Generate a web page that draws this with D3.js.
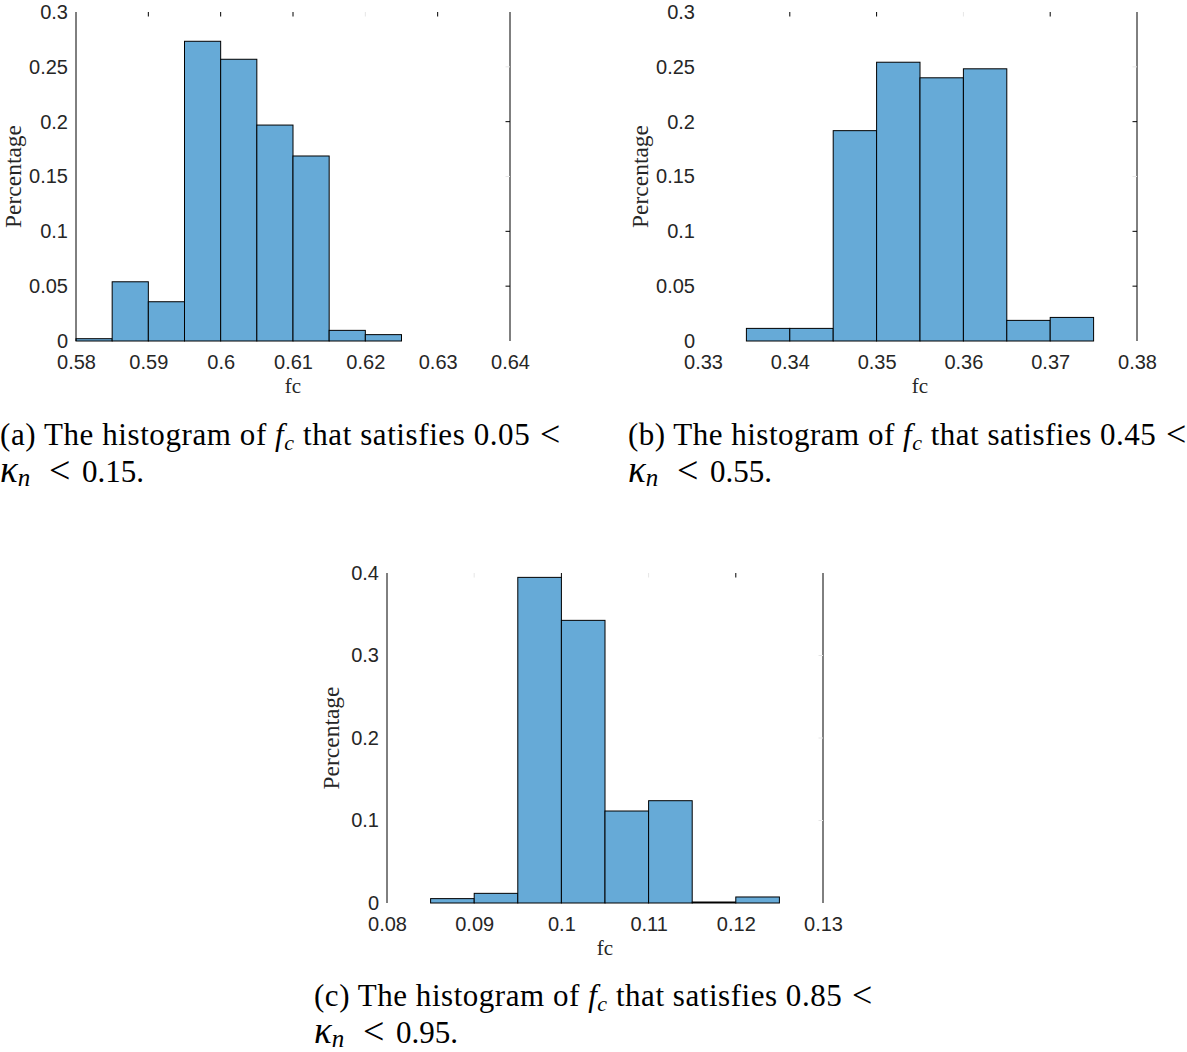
<!DOCTYPE html>
<html>
<head>
<meta charset="utf-8">
<script src="https://cdn.jsdelivr.net/npm/d3@7"></script>
<style>
  html, body { margin: 0; padding: 0; background: #fff; }
  svg { display: block; }
</style>
</head>
<body>
<svg id="chart" width="1187" height="1052"></svg>
<script>
// ---------------- data ----------------
const binEdgesA = [0.580, 0.585, 0.590, 0.595, 0.600, 0.605, 0.610, 0.615, 0.620, 0.625];
const valuesA   = [0.0021, 0.0540, 0.0358, 0.2733, 0.2569, 0.1969, 0.1687, 0.0097, 0.0058];
const xTicksA   = [0.58, 0.59, 0.60, 0.61, 0.62, 0.63, 0.64];
const yTicksA   = [0, 0.05, 0.10, 0.15, 0.20, 0.25, 0.30];

const binEdgesB = [0.335, 0.340, 0.345, 0.350, 0.355, 0.360, 0.365, 0.370, 0.375];
const valuesB   = [0.0115, 0.0115, 0.1918, 0.2542, 0.2400, 0.2482, 0.0188, 0.0215];
const xTicksB   = [0.33, 0.34, 0.35, 0.36, 0.37, 0.38];
const yTicksB   = [0, 0.05, 0.10, 0.15, 0.20, 0.25, 0.30];

const binEdgesC = [0.085, 0.090, 0.095, 0.100, 0.105, 0.110, 0.115, 0.120, 0.125];
const valuesC   = [0.0053, 0.0117, 0.3947, 0.3426, 0.1115, 0.1240, 0.0012, 0.0073];
const xTicksC   = [0.08, 0.09, 0.10, 0.11, 0.12, 0.13];
const yTicksC   = [0, 0.1, 0.2, 0.3, 0.4];

const xLabel = "fc";
const yLabel = "Percentage";
const captionA = ["(a) The histogram of ", "f", "c", " that satisfies 0.05 ", "<", "κ", "n", "<", "0.15."];
const captionB = ["(b) The histogram of ", "f", "c", " that satisfies 0.45 ", "<", "κ", "n", "<", "0.55."];
const captionC = ["(c) The histogram of ", "f", "c", " that satisfies 0.85 ", "<", "κ", "n", "<", "0.95."];

// ---------------- layout ----------------
const svg = d3.select("#chart");
const BAR_FILL = "#66aad7";
const TICK_FONT = "'Liberation Sans', Arial, Helvetica, sans-serif";
const SERIF = "'Liberation Serif', 'Times New Roman', Times, serif";

const panels = [
  { edges: binEdgesA, values: valuesA, xt: xTicksA, yt: yTicksA,
    left: 76, right: 510, top: 12, bottom: 341, ylabX: 21,
    faintTop: [0.62], faintRight: [0.25, 0.15], leftLine: true,
    caption: captionA, capX: 0, capW: 538, capY: 445 },
  { edges: binEdgesB, values: valuesB, xt: xTicksB, yt: yTicksB,
    left: 703, right: 1137, top: 12, bottom: 341, ylabX: 648,
    faintTop: [0.36], faintRight: [0.25, 0.15], leftLine: false,
    caption: captionB, capX: 628, capW: 536, capY: 445 },
  { edges: binEdgesC, values: valuesC, xt: xTicksC, yt: yTicksC,
    left: 387, right: 823, top: 573, bottom: 903, ylabX: 339,
    faintTop: [0.09, 0.11], faintRight: [0.3, 0.2, 0.1], leftLine: true,
    caption: captionC, capX: 314, capW: 536, capY: 1006 }
];

const fmt = d => String(+(+d).toFixed(3));

panels.forEach(p => {
  const x = d3.scaleLinear().domain([p.xt[0], p.xt[p.xt.length - 1]]).range([p.left, p.right]);
  const y = d3.scaleLinear().domain([p.yt[0], p.yt[p.yt.length - 1]]).range([p.bottom, p.top]);
  const g = svg.append("g");

  // bars
  const bins = p.values.map((v, i) => ({ x0: p.edges[i], x1: p.edges[i + 1], v }));
  g.append("g").selectAll("rect").data(bins).join("rect")
    .attr("x", d => x(d.x0))
    .attr("y", d => y(d.v))
    .attr("width", d => x(d.x1) - x(d.x0))
    .attr("height", d => y(0) - y(d.v))
    .attr("fill", BAR_FILL)
    .attr("stroke", "#000")
    .attr("stroke-width", 1);

  // box lines
  g.append("line").attr("x1", p.right).attr("x2", p.right).attr("y1", p.top).attr("y2", p.bottom)
    .attr("stroke", "#000").attr("stroke-width", 1);
  if (p.leftLine) {
    g.append("line").attr("x1", p.left).attr("x2", p.left).attr("y1", p.top).attr("y2", p.bottom)
      .attr("stroke", "#000").attr("stroke-width", 1);
  }

  // inward ticks on top and right
  const isFaint = (arr, v) => arr.some(a => Math.abs(a - v) < 1e-9);
  g.append("g").selectAll("line").data(p.xt.slice(1, -1)).join("line")
    .attr("x1", d => x(d)).attr("x2", d => x(d))
    .attr("y1", p.top).attr("y2", p.top + 4.5)
    .attr("stroke", d => isFaint(p.faintTop, d) ? "#e6e6e6" : "#000");
  g.append("g").selectAll("line").data(p.yt.slice(1, -1)).join("line")
    .attr("x1", p.right - 4.5).attr("x2", p.right)
    .attr("y1", d => y(d)).attr("y2", d => y(d))
    .attr("stroke", d => isFaint(p.faintRight, d) ? "#e6e6e6" : "#000");

  // tick labels via d3 axes
  const xa = g.append("g").attr("transform", `translate(0,${p.bottom})`)
    .call(d3.axisBottom(x).tickValues(p.xt).tickFormat(fmt).tickSize(0).tickPadding(14));
  const ya = g.append("g").attr("transform", `translate(${p.left},0)`)
    .call(d3.axisLeft(y).tickValues(p.yt).tickFormat(fmt).tickSize(0).tickPadding(8));
  [xa, ya].forEach(a => {
    a.select(".domain").remove();
    a.selectAll("text").attr("font-family", TICK_FONT).attr("font-size", 20).attr("fill", "#262626");
  });

  // axis titles
  g.append("text")
    .attr("x", (p.left + p.right) / 2).attr("y", p.bottom + 52)
    .attr("text-anchor", "middle")
    .attr("font-family", SERIF).attr("font-size", 21).attr("fill", "#262626")
    .text(xLabel);
  g.append("text")
    .attr("transform", `translate(${p.ylabX},${(p.top + p.bottom) / 2}) rotate(-90)`)
    .attr("text-anchor", "middle")
    .attr("font-family", SERIF).attr("font-size", 23.5).attr("fill", "#262626")
    .text(yLabel);

  // caption line 1
  const c = p.caption;
  const t1 = g.append("text")
    .attr("x", p.capX).attr("y", p.capY)
    .attr("font-family", SERIF).attr("font-size", 31).attr("fill", "#000")
    .attr("xml:space", "preserve")
    .attr("textLength", p.capW).attr("lengthAdjust", "spacing");
  t1.append("tspan").text(c[0]);
  t1.append("tspan").attr("font-style", "italic").text(c[1]);
  t1.append("tspan").attr("font-style", "italic").attr("font-size", 22).attr("dy", 5).text(c[2]);
  t1.append("tspan").attr("dy", -5).text(c[3]);
  g.append("text")
    .attr("x", p.capX + p.capW + 2).attr("y", p.capY + 1)
    .attr("font-family", SERIF).attr("font-size", 36).attr("fill", "#000")
    .text(c[4]);

  // caption line 2
  const y2 = p.capY + 37;
  const t2 = g.append("text")
    .attr("x", p.capX).attr("y", y2)
    .attr("font-family", SERIF).attr("font-size", 37).attr("fill", "#000");
  t2.append("tspan").attr("font-style", "italic").text(c[5]);
  t2.append("tspan").attr("font-style", "italic").attr("font-size", 25).attr("dy", 4).text(c[6]);
  g.append("text")
    .attr("x", p.capX + 49).attr("y", y2 + 1)
    .attr("font-family", SERIF).attr("font-size", 38).attr("fill", "#000")
    .text(c[7]);
  g.append("text")
    .attr("x", p.capX + 82).attr("y", y2)
    .attr("font-family", SERIF).attr("font-size", 31).attr("fill", "#000")
    .text(c[8]);
});
</script>
</body>
</html>
